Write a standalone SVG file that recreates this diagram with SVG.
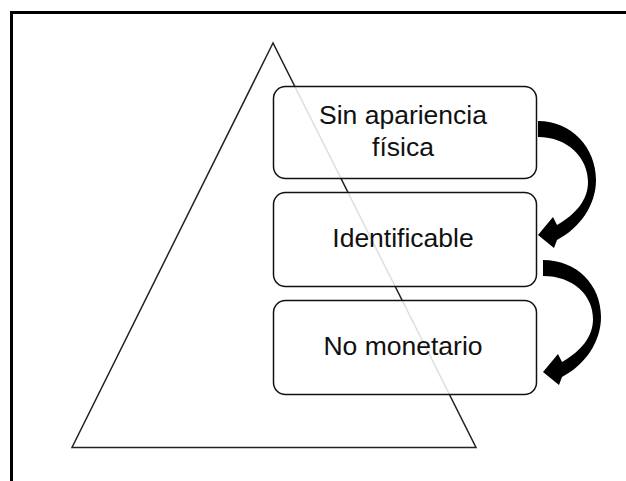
<svg xmlns="http://www.w3.org/2000/svg" width="626" height="481" viewBox="0 0 626 481">
<style>
.frame{fill:none;stroke:#000;stroke-width:3}
.tri{fill:#fff;stroke:#222;stroke-width:1.5;stroke-linejoin:miter}
.box{fill:#fff;fill-opacity:0.85;stroke:#111;stroke-width:1.5}
.lbl{font-family:"Liberation Sans",Arial,sans-serif;font-size:26.5px;fill:#111;text-anchor:middle}
.arr{fill:#000}
</style>
<rect width="626" height="481" fill="#fff"/>
<path class="frame" d="M11.5,481 V12.5 H626"/>
<g id="pyramid">
<polygon class="tri" points="273,43 72,447.5 476,447.5"/>
</g>
<g id="node1">
<rect class="box" x="273.5" y="86.5" width="263" height="92" rx="12"/>
<text class="lbl" x="403" y="124">Sin apariencia</text>
<text class="lbl" x="403" y="156">física</text>
</g>
<g id="node2">
<rect class="box" x="273.5" y="192.5" width="263" height="94" rx="12"/>
<text class="lbl" x="403" y="247">Identificable</text>
</g>
<g id="node3">
<rect class="box" x="273.5" y="300.5" width="263" height="94" rx="12"/>
<text class="lbl" x="403" y="355">No monetario</text>
</g>
<g id="connectors">
<path class="arr" d="M538,121 C572,121 596,148 596,180 C596,205 580,228 557,240 L554,248 L538,235 L553,217 L557,225 C576,214 588,200 588,182 C588,158 568,137 538,137 Z"/>
<path class="arr" transform="translate(5,137)" d="M538,123 C572,123 596,148 596,180 C596,205 580,228 557,240 L554,248 L538,235 L553,217 L557,225 C576,214 588,200 588,182 C588,158 568,139 538,139 Z"/>
</g>
</svg>
